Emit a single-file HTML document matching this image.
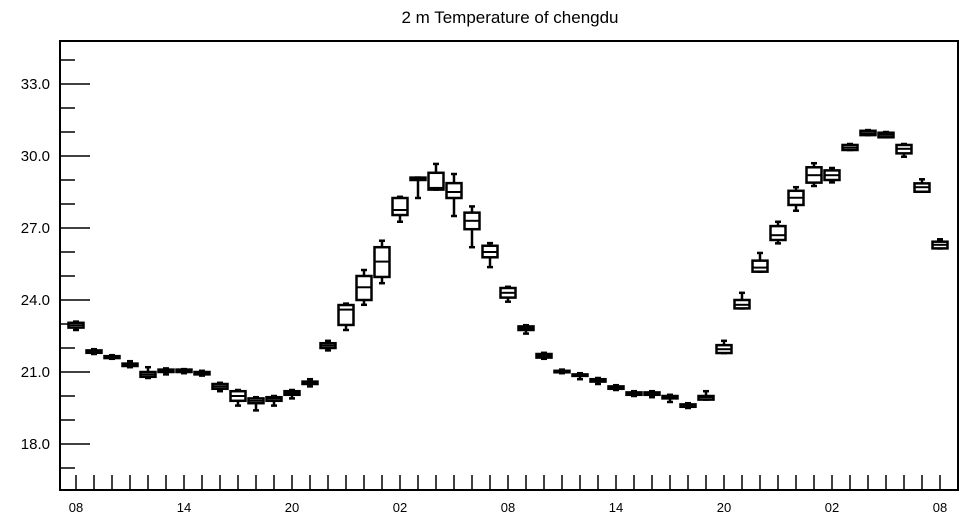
<!DOCTYPE html>
<html><head><meta charset="utf-8"><style>body{margin:0;background:#fff}svg{display:block}</style></head>
<body>
<svg id="chart" width="964" height="520" viewBox="0 0 964 520" xmlns="http://www.w3.org/2000/svg" font-family="'Liberation Sans', sans-serif">
<text x="510" y="23" font-size="17" text-anchor="middle">2 m Temperature of chengdu</text>
<rect x="60" y="41" width="898" height="449" fill="none" stroke="#000" stroke-width="2"/>
<g id="axes"></g>
<g id="boxes"></g>
</svg>
<script>
const yTicks=[18,21,24,27,30,33];
const yTickLabels=["18.0","21.0","24.0","27.0","30.0","33.0"];
const xTickHours=[0,6,12,18,24,30,36,42,48];
const xTickLabels=["08","14","20","02","08","14","20","02","08"];
const mins=[22.75,21.75,21.55,21.2,20.75,20.9,20.95,20.85,20.2,19.6,19.4,19.6,19.9,20.4,21.9,22.75,23.8,24.7,27.26,28.25,28.6,27.5,26.2,25.37,23.93,22.6,21.55,20.95,20.7,20.5,20.25,20.0,19.95,19.75,19.5,19.85,21.79,23.65,25.18,26.36,27.72,28.75,28.9,30.25,30.87,30.78,29.97,28.51,26.15];
const q1s=[22.85,21.8,21.58,21.25,20.8,21.0,21.0,20.9,20.3,19.8,19.7,19.8,20.05,20.5,22.0,22.96,24.0,24.96,27.54,29.0,28.6,28.25,26.95,25.78,24.1,22.75,21.6,21.0,20.85,20.6,20.3,20.05,20.05,19.9,19.55,19.85,21.79,23.65,25.18,26.5,27.96,28.89,29.0,30.25,30.87,30.78,30.11,28.51,26.15];
const medians=[22.95,21.85,21.62,21.3,20.9,21.05,21.05,20.95,20.4,20.0,19.8,19.9,20.12,20.55,22.1,23.6,24.53,25.6,27.75,29.05,28.67,28.5,27.3,26.0,24.3,22.82,21.68,21.02,20.88,20.65,20.35,20.1,20.1,19.95,19.6,19.95,21.95,23.8,25.35,26.7,28.26,29.2,29.2,30.35,30.95,30.88,30.3,28.7,26.3];
const q3s=[23.05,21.9,21.66,21.35,21.0,21.1,21.1,21.0,20.5,20.2,19.9,19.95,20.2,20.6,22.2,23.79,25.0,26.2,28.25,29.1,29.3,28.87,27.64,26.26,24.5,22.9,21.75,21.05,20.9,20.7,20.4,20.15,20.15,20.0,19.65,20.0,22.12,24.0,25.64,27.08,28.55,29.53,29.4,30.46,31.05,30.97,30.46,28.86,26.43];
const maxs=[23.1,21.95,21.7,21.45,21.2,21.15,21.12,21.05,20.55,20.25,19.95,20.0,20.25,20.7,22.3,23.85,25.25,26.47,28.3,29.1,29.67,29.25,27.9,26.37,24.55,22.95,21.8,21.1,20.95,20.75,20.45,20.2,20.2,20.05,19.7,20.2,22.3,24.3,25.96,27.26,28.7,29.7,29.5,30.5,31.08,31.0,30.5,29.03,26.53];

const NS="http://www.w3.org/2000/svg";
function X(h){return 76+h*18;}
function Y(v){return 84+(33-v)*24;}
function mk(tag,attrs,parent){const e=document.createElementNS(NS,tag);for(const k in attrs)e.setAttribute(k,attrs[k]);parent.appendChild(e);return e;}
const axes=document.getElementById('axes');
const boxes=document.getElementById('boxes');
// y ticks
for(let v=17;v<=34;v++){
  const major=(v%3===0);
  const t=mk('line',{x1:60,x2:major?90:75,y1:Y(v),y2:Y(v),stroke:'#000','stroke-width':1.5},axes);
  
  
}
yTicks.forEach((v,i)=>{
  const t=mk('text',{x:50,y:Y(v)+5,'font-size':15,'text-anchor':'end'},axes);
  t.textContent=yTickLabels[i];
  
  
});
// x ticks
for(let h=0;h<mins.length;h++){
  const t=mk('line',{x1:X(h),x2:X(h),y1:490,y2:475,stroke:'#000','stroke-width':1.5},axes);
  
  
}
xTickHours.forEach((h,i)=>{
  const t=mk('text',{x:X(h),y:512,'font-size':13,'text-anchor':'middle'},axes);
  t.textContent=xTickLabels[i];
  
  
});
// boxes
for(let i=0;i<mins.length;i++){
  const g=mk('g',{},boxes);
  
  
  const x=X(i);
  mk('line',{x1:x,x2:x,y1:Y(maxs[i]),y2:Y(q3s[i]),stroke:'#000','stroke-width':2.5},g);
  mk('line',{x1:x,x2:x,y1:Y(q1s[i]),y2:Y(mins[i]),stroke:'#000','stroke-width':2.5},g);
  mk('line',{x1:x-3,x2:x+3,y1:Y(maxs[i]),y2:Y(maxs[i]),stroke:'#000','stroke-width':2.5},g);
  mk('line',{x1:x-3,x2:x+3,y1:Y(mins[i]),y2:Y(mins[i]),stroke:'#000','stroke-width':2.5},g);
  const top=Y(q3s[i]),bot=Y(q1s[i]);
  mk('rect',{x:x-7.5,y:top,width:15,height:Math.max(bot-top,1.5),fill:'#fff',stroke:'#000','stroke-width':2.5},g);
  mk('line',{x1:x-7.5,x2:x+7.5,y1:Y(medians[i]),y2:Y(medians[i]),stroke:'#000','stroke-width':2},g);
}
</script>
</body></html>
